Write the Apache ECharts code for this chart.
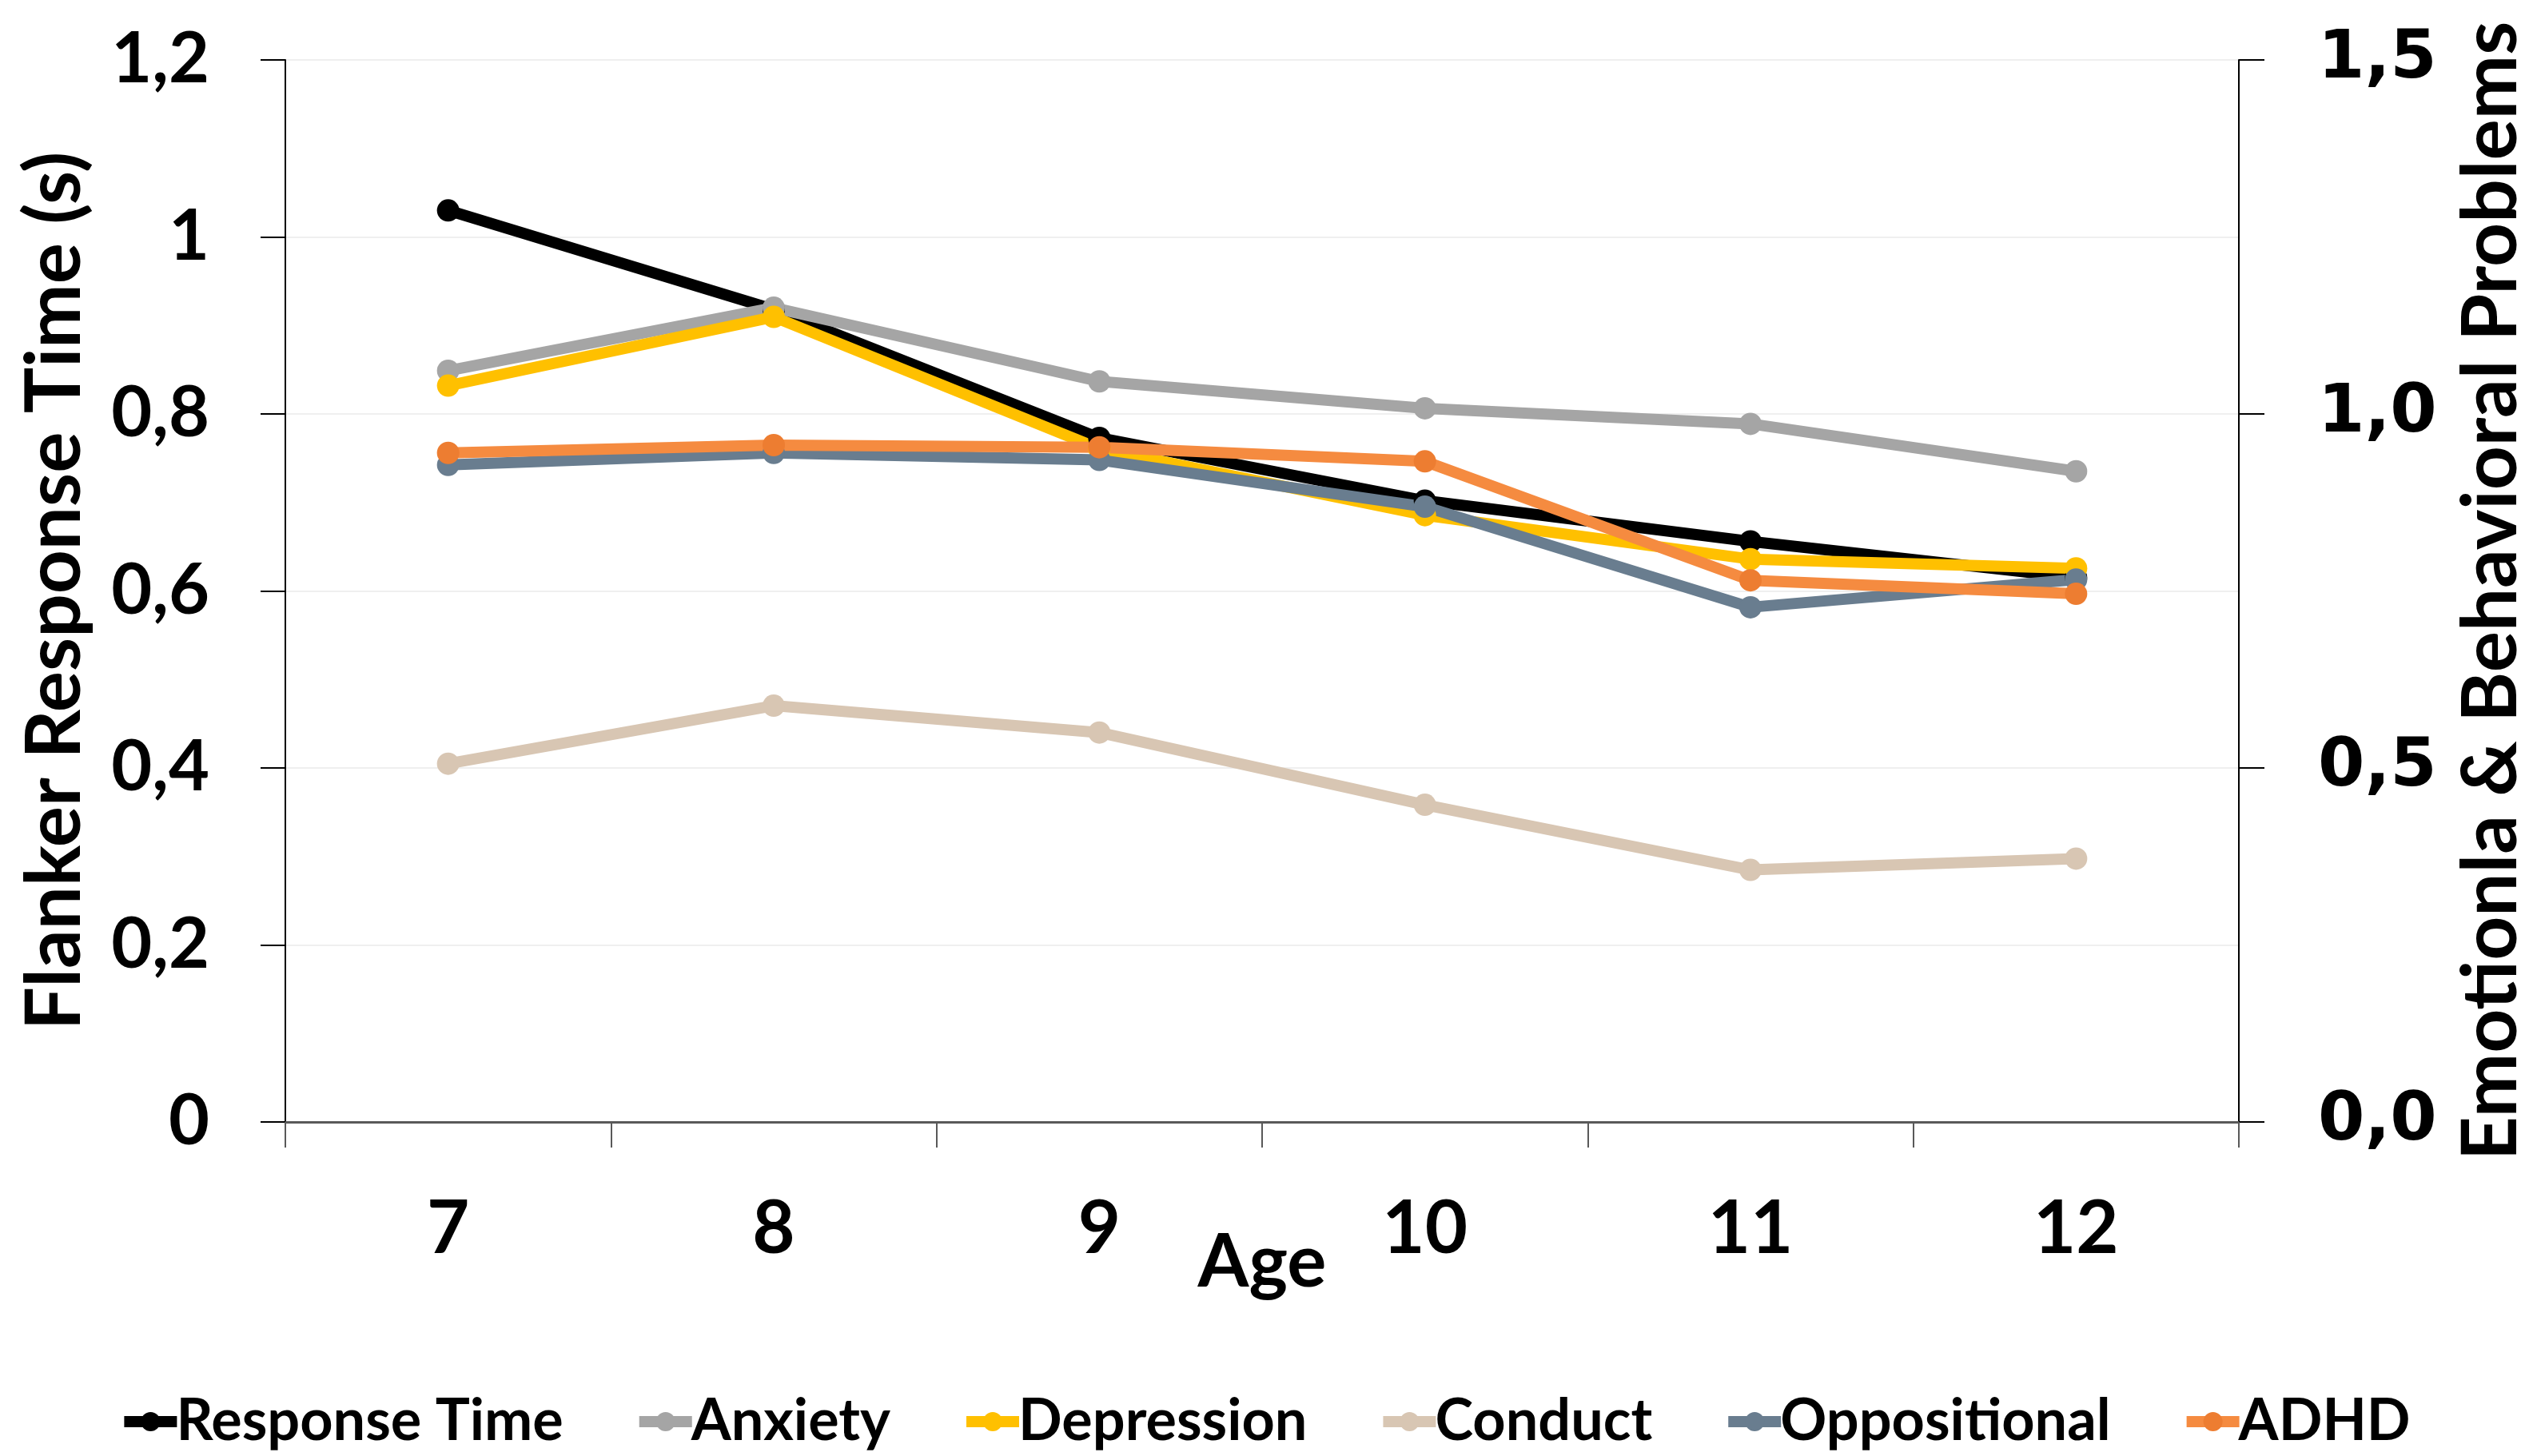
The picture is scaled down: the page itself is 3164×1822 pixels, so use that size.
<!DOCTYPE html>
<html>
<head>
<meta charset="utf-8">
<script src="https://cdn.jsdelivr.net/npm/echarts@6/dist/echarts.min.js"></script>
<style>
html,body{margin:0;padding:0;background:#fff;}
#c{width:3164px;height:1822px;}
</style>
</head>
<body>
<div id="c"></div>
<script>
var ages = ['7', '8', '9', '10', '11', '12'];
var responseTime = [1.030, 0.918, 0.773, 0.702, 0.656, 0.615];
var anxiety = [1.061, 1.150, 1.046, 1.008, 0.986, 0.919];
var depression = [1.040, 1.137, 0.951, 0.857, 0.795, 0.782];
var conduct = [0.506, 0.588, 0.550, 0.448, 0.356, 0.372];
var oppositional = [0.928, 0.945, 0.935, 0.869, 0.727, 0.766];
var adhd = [0.945, 0.956, 0.953, 0.933, 0.765, 0.746];

var FONT = 'Lato';
function mk(name, data, axis, lineColor, markColor) {
  return {
    name: name, type: 'line', data: data, yAxisIndex: axis,
    symbol: 'circle', symbolSize: 28,
    lineStyle: { width: 14, color: lineColor },
    itemStyle: { color: markColor || lineColor },
    emphasis: { disabled: true },
    animation: false
  };
}
var chart = echarts.init(document.getElementById('c'));
chart.setOption({
  backgroundColor: '#ffffff',
  animation: false,
  grid: { left: 357, right: 363, top: 75, bottom: 418, containLabel: false, outerBoundsMode: 'none' },
  legend: {
    top: 1738, left: 'center',
    itemWidth: 66, itemHeight: 30, itemGap: 88,
    lineStyle: { width: 14 },
    textStyle: { fontFamily: FONT, fontWeight: 'bold', fontSize: 72, color: '#000', padding: [0, 0, 0, -6] },
    data: ['Response Time', 'Anxiety', 'Depression', 'Conduct', 'Oppositional', 'ADHD']
  },
  xAxis: {
    type: 'category', data: ages, boundaryGap: true,
    name: 'Age', nameLocation: 'middle', nameGap: 130, nameMoveOverlap: false,
    nameTextStyle: { fontFamily: FONT, fontWeight: 'bold', fontSize: 92, color: '#000' },
    axisLine: { lineStyle: { color: '#595959', width: 3 } },
    axisTick: { show: true, length: 32, lineStyle: { color: '#595959', width: 2 } },
    axisLabel: { margin: 88, fontFamily: FONT, fontWeight: 'bold', fontSize: 92, color: '#000' },
    splitLine: { show: false }
  },
  yAxis: [{
    type: 'value', min: 0, max: 1.2, interval: 0.2,
    name: 'Flanker Response Time (s)', nameLocation: 'middle', nameRotate: 90, nameGap: 240, nameMoveOverlap: false,
    nameTextStyle: { fontFamily: FONT, fontWeight: 'bold', fontSize: 96, color: '#000' },
    axisLine: { show: true, lineStyle: { color: '#000', width: 2 } },
    axisTick: { show: true, length: 31, lineStyle: { color: '#000', width: 2 } },
    axisLabel: {
      margin: 95, fontFamily: FONT, fontWeight: 'bold', fontSize: 88, color: '#000',
      formatter: function (v) { return String(Math.round(v * 10) / 10).replace('.', ','); }
    },
    splitLine: { show: true, lineStyle: { color: '#efefef', width: 2 } }
  }, {
    type: 'value', min: 0, max: 1.5, interval: 0.5, position: 'right',
    name: 'Emotionla & Behavioral Problems', nameLocation: 'middle', nameRotate: 90, nameGap: 268, nameMoveOverlap: false,
    nameTextStyle: { fontFamily: FONT, fontWeight: 'bold', fontSize: 96, color: '#000' },
    axisLine: { show: true, lineStyle: { color: '#000', width: 2 } },
    axisTick: { show: true, length: 32, lineStyle: { color: '#000', width: 2 } },
    axisLabel: {
      margin: 99, fontFamily: 'DejaVu Sans', fontWeight: 'bold', fontSize: 84, color: '#000',
      formatter: function (v) { return v.toFixed(1).replace('.', ','); }
    },
    splitLine: { show: false }
  }],
  series: [
    mk('Response Time', responseTime, 0, '#000000'),
    mk('Anxiety', anxiety, 1, '#A5A5A5'),
    mk('Depression', depression, 1, '#FFC000'),
    mk('Conduct', conduct, 1, '#D8C6B3'),
    mk('Oppositional', oppositional, 1, '#697D8F'),
    mk('ADHD', adhd, 1, '#F58B40', '#ED7D31')
  ]
});
</script>
</body>
</html>
